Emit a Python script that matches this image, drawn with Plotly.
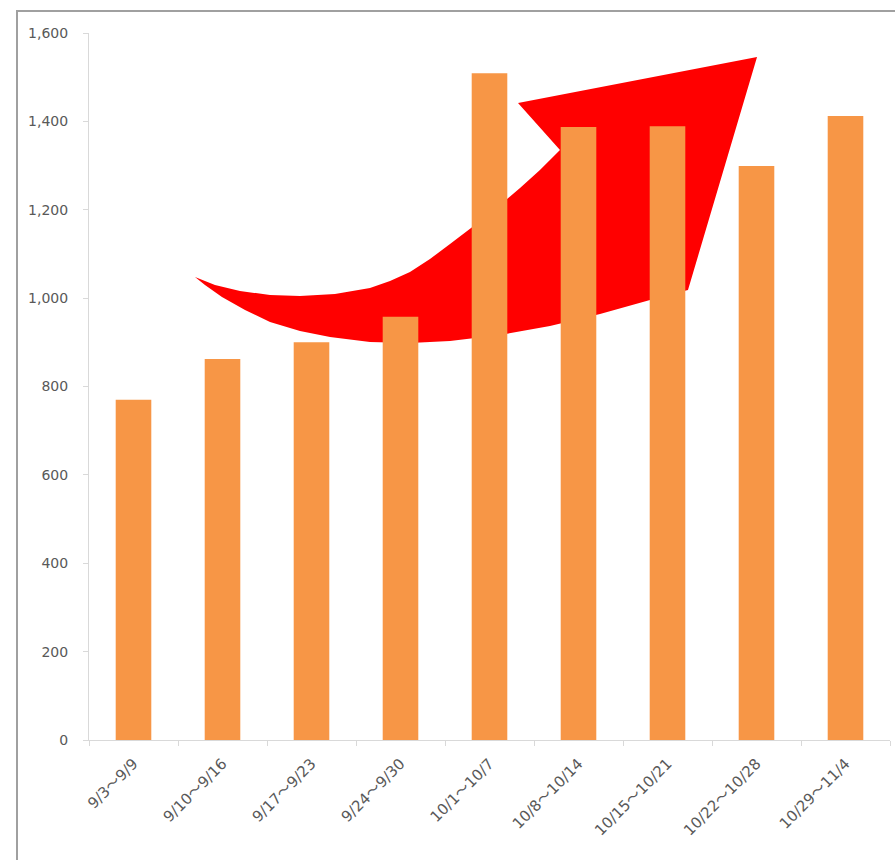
import plotly.graph_objects as go

categories = ["9/3～9/9", "9/10～9/16", "9/17～9/23", "9/24～9/30", "10/1～10/7",
              "10/8～10/14", "10/15～10/21", "10/22～10/28", "10/29～11/4"]
values = [770, 862, 900, 958, 1509, 1387, 1389, 1299, 1412]

W, H = 895, 860
L, R, T, B = 89, 5, 33, 120
pw, ph = W - L - R, H - T - B

def P(x, y):
    return ((x - L) / pw, (H - B - y) / ph)

# decorative arrow outline (pixel positions -> paper)
arrow_px = [
    (195, 277), (215, 285), (240, 291), (270, 295), (300, 296), (335, 294),
    (370, 288), (390, 281), (410, 272), (430, 259), (450, 244), (475, 225),
    (500, 205), (520, 188), (540, 170), (560, 150),
    (518, 103), (757, 57), (688, 290),
    (650, 300), (600, 314), (550, 326), (500, 335), (450, 341), (410, 343),
    (370, 342), (330, 337), (300, 331), (270, 322), (245, 310), (222, 297),
    (205, 285),
]
pts = [P(x, y) for x, y in arrow_px]
path = "M " + " L ".join(f"{x:.4f},{y:.4f}" for x, y in pts) + " Z"

fig = go.Figure(go.Bar(x=categories, y=values, marker=dict(color="#F79646", line=dict(width=0))))

bx0, by0 = P(17, 11)
bx1, by1 = P(W + 20, H + 20)
fig.update_layout(
    width=W, height=H,
    margin=dict(l=L, r=R, t=T, b=B),
    paper_bgcolor="white", plot_bgcolor="white",
    bargap=0.6,
    showlegend=False,
    font=dict(family="DejaVu Sans, Noto Sans CJK JP", size=14, color="#595959"),
    shapes=[
        dict(type="path", path=path, xref="paper", yref="paper",
             fillcolor="#FF0000", line=dict(width=0), layer="below"),
        dict(type="rect", xref="paper", yref="paper", x0=bx0, y0=by1, x1=bx1, y1=by0,
             line=dict(color="#A0A0A0", width=2), fillcolor="rgba(0,0,0,0)", layer="above"),
    ],
)
fig.update_xaxes(
    showline=True, linecolor="#D9D9D9", linewidth=1,
    ticks="outside", tickson="boundaries", ticklen=5, tickcolor="#D9D9D9",
    tickangle=-45, showgrid=False, ticklabelstandoff=8,
    tickfont=dict(family="DejaVu Sans, Noto Sans CJK JP", size=15, color="#595959"),
)
fig.update_yaxes(
    range=[0, 1600], dtick=200, tickformat=",", showgrid=False,
    showline=True, linecolor="#D9D9D9", linewidth=1,
    ticks="outside", ticklen=5, tickcolor="#D9D9D9", zeroline=False,
    ticklabelstandoff=12, tickfont=dict(size=14, color="#595959"),
)
fig.write_html("out.html")
